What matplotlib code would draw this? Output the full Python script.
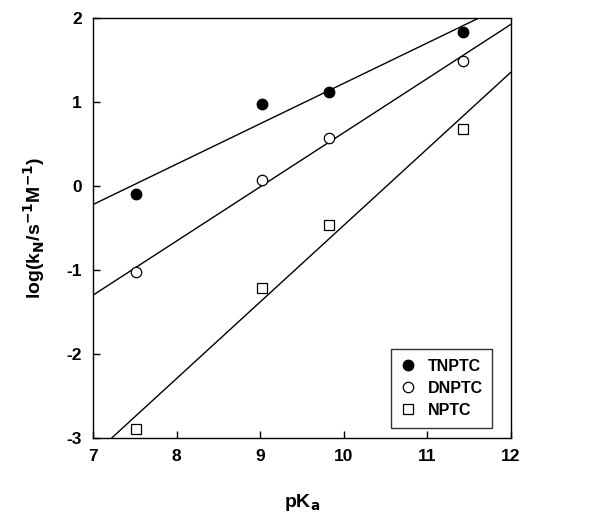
import numpy as np
import matplotlib
matplotlib.use("Agg")
import matplotlib.pyplot as plt

plt.rcParams['font.family'] = ['Liberation Sans', 'DejaVu Sans']
plt.rcParams['font.weight'] = 'bold'
plt.rcParams['axes.unicode_minus'] = False

pka_tn = [7.52, 9.02, 9.82, 11.42]
log_tn = [-0.10, 0.97, 1.11, 1.83]
pka_dn = [7.52, 9.02, 9.82, 11.42]
log_dn = [-1.03, 0.07, 0.57, 1.49]
pka_n = [7.52, 9.02, 9.82, 11.42]
log_n = [-2.89, -1.21, -0.47, 0.67]
labels = ["TNPTC", "DNPTC", "NPTC"]

fig = plt.figure(figsize=(6.02, 5.19), dpi=100)
ax = fig.add_axes([0.1545, 0.156, 0.6945, 0.810])

xx = np.linspace(7, 12, 200)
for px, ly in [(pka_tn, log_tn), (pka_dn, log_dn), (pka_n, log_n)]:
    p = np.polyfit(px, ly, 1)
    ax.plot(xx, np.polyval(p, xx), color='black', lw=1.0, zorder=1)

ax.plot(pka_tn, log_tn, 'o', ms=7.5, mfc='black', mec='black', ls='none', label=labels[0], zorder=3)
ax.plot(pka_dn, log_dn, 'o', ms=7.5, mfc='white', mec='black', mew=0.9, ls='none', label=labels[1], zorder=3)
ax.plot(pka_n, log_n, 's', ms=7, mfc='white', mec='black', mew=0.9, ls='none', label=labels[2], zorder=3)

ax.set_xlim(7, 12)
ax.set_ylim(-3, 2)
ax.set_xticks([7, 8, 9, 10, 11, 12])
ax.set_yticks([-3, -2, -1, 0, 1, 2])
ax.tick_params(direction='in', length=5, width=1, labelsize=12.5, pad=8)
for lab in ax.get_xticklabels() + ax.get_yticklabels():
    lab.set_fontweight('bold')
for s in ax.spines.values():
    s.set_linewidth(1.0)

ax.set_xlabel(r'pK$_\mathbf{a}$', fontsize=14, fontweight='bold', labelpad=20)
ax.set_ylabel(r'log(k$_\mathbf{N}$/s$^\mathbf{-1}$M$^\mathbf{-1}$)', fontsize=14, fontweight='bold', labelpad=14)

leg = ax.legend(loc='lower right', bbox_to_anchor=(0.955, 0.025), frameon=True, fancybox=False,
                edgecolor='black', fontsize=11.5, handletextpad=0.7, borderpad=0.6,
                labelspacing=0.45, handlelength=1.0, borderaxespad=0.0)
leg.get_frame().set_linewidth(1.0)
for t in leg.get_texts():
    t.set_fontweight('bold')

fig.savefig('out.png', dpi=100)
